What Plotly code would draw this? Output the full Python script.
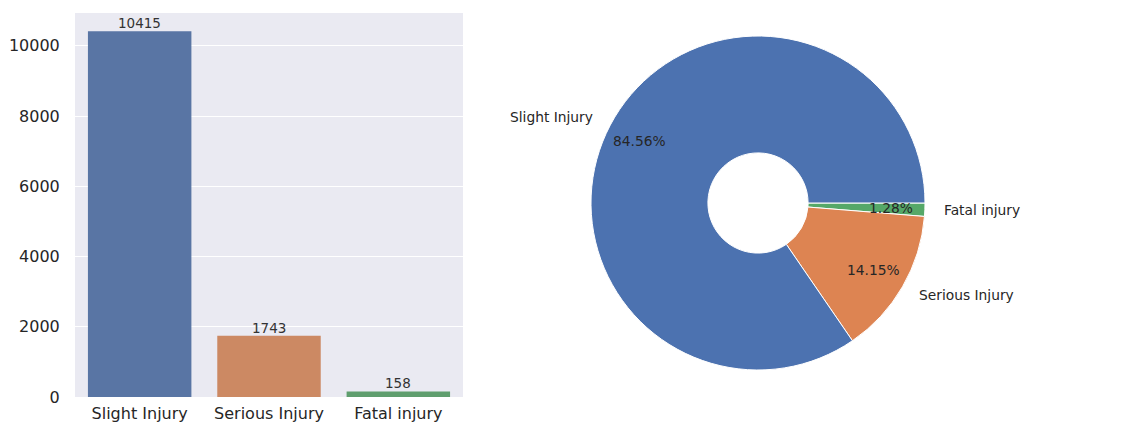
import math
import plotly.graph_objects as go

# Injury severity counts
categories = ["Slight Injury", "Serious Injury", "Fatal injury"]
counts = [10415, 1743, 158]
y_ticks = [0, 2000, 4000, 6000, 8000, 10000]

bar_colors = ["#5975a4", "#cc8963", "#5f9e6e"]
pie_colors = ["#4c72b0", "#dd8452", "#55a868"]

W, H = 1140, 423
TEXT = "#262626"
FONT = "DejaVu Sans"

# Pie geometry in pixels (centre measured from top-left)
cx, cy, r = 758, 203, 167
pct_dist, label_dist = 0.8, 1.1

fig = go.Figure()

fig.add_trace(go.Bar(
    x=categories, y=counts,
    marker=dict(color=bar_colors, line=dict(width=0)),
    width=0.8, showlegend=False, hoverinfo="x+y",
))

# Count labels above each bar
for c, v in zip(categories, counts):
    fig.add_annotation(
        x=c, y=v, xref="x", yref="y", text=str(v), showarrow=False,
        yanchor="bottom", yshift=-2,
        font=dict(family=FONT, size=13.5, color="#333333"),
    )

# Wedges run counter-clockwise from 3 o'clock; drawn clockwise in reverse order
fig.add_trace(go.Pie(
    labels=categories[::-1], values=counts[::-1], sort=False,
    direction="clockwise", rotation=90, hole=0.3,
    marker=dict(colors=pie_colors[::-1], line=dict(color="white", width=1)),
    textinfo="none", showlegend=False,
    domain=dict(x=[(cx - r) / W, (cx + r) / W],
                y=[(H - cy - r) / H, (H - cy + r) / H]),
))

# Percent and category labels around the donut, placed at the wedge mid-angles
total = sum(counts)
start = 0.0
for c, v in zip(categories, counts):
    frac = v / total
    mid = math.radians((start + frac / 2) * 360)
    start += frac
    px = cx + pct_dist * r * math.cos(mid)
    py = (H - cy) + pct_dist * r * math.sin(mid)
    fig.add_annotation(
        x=px / W, y=py / H, xref="paper", yref="paper",
        text=f"{frac * 100:.2f}%", showarrow=False,
        xanchor="center", yanchor="middle",
        font=dict(family=FONT, size=13.8, color=TEXT),
    )
    lx = cx + label_dist * r * math.cos(mid)
    ly = (H - cy) + label_dist * r * math.sin(mid)
    fig.add_annotation(
        x=lx / W, y=ly / H, xref="paper", yref="paper",
        text=c, showarrow=False,
        xanchor="right" if math.cos(mid) < 0 else "left", yanchor="middle",
        font=dict(family=FONT, size=13.8, color=TEXT),
    )

fig.update_layout(
    width=W, height=H,
    margin=dict(l=0, r=0, t=0, b=0),
    paper_bgcolor="white", plot_bgcolor="#eaeaf2",
    font=dict(family=FONT, color=TEXT),
    xaxis=dict(
        domain=[75 / W, 463 / W], range=[-0.5, 2.5], automargin=False,
        showgrid=False, zeroline=False, showline=False,
        ticks="outside", ticklen=2, tickcolor="rgba(0,0,0,0)",
        tickfont=dict(family=FONT, size=16, color=TEXT),
    ),
    yaxis=dict(
        domain=[26 / H, 410 / H], range=[0, counts[0] * 1.05], automargin=False,
        tickvals=y_ticks, tickformat="d",
        showgrid=True, gridcolor="white", gridwidth=1,
        zeroline=False, showline=False,
        ticks="outside", ticklen=11, tickcolor="rgba(0,0,0,0)",
        tickfont=dict(family=FONT, size=16, color=TEXT),
    ),
)

fig.write_html("out.html")
